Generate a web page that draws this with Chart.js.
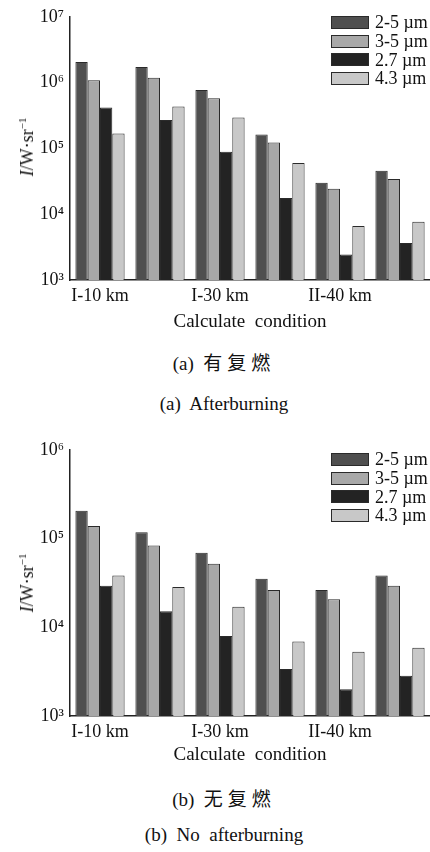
<!DOCTYPE html>
<html>
<head>
<meta charset="utf-8">
<script src="https://cdn.jsdelivr.net/npm/chart.js@4.4.1/dist/chart.umd.min.js"></script>
<style>
  html, body { margin: 0; padding: 0; background: #fff; }
  body { width: 430px; height: 852px; position: relative; overflow: hidden; font-family: "Liberation Serif", "Noto Sans CJK SC", serif; color: #111; }
  .box { position: absolute; left: 0; width: 430px; }
  .legend { position: absolute; left: 331px; }
  .legend div { height: 18.7px; display: flex; align-items: center; font-size: 18px; line-height: 18px; white-space: nowrap; }
  .legend span.sw { display: inline-block; width: 38px; height: 13px; border: 1px solid #2a2a2a; box-sizing: border-box; margin-right: 6px; }
  .cap { position: absolute; left: 0; width: 448px; text-align: center; font-size: 19px; line-height: 22px; white-space: pre; }
  .cn { letter-spacing: 5px; }
  .ytitle { position: absolute; left: 27px; font-size: 18px; white-space: nowrap; transform: translate(-50%, -50%) rotate(-90deg); }
</style>
</head>
<body>
<div class="box" style="top:0;height:334px"><canvas id="chartA"></canvas></div>
<div class="legend" id="legA" style="top:13px"></div>
<div class="ytitle" style="top:147px"><i>I</i>/W·sr<sup style="font-size:11px">−1</sup></div>
<div class="cap" style="top:353px">(a)  <span class="cn">有复燃</span></div>
<div class="cap" style="top:393px">(a)  Afterburning</div>

<div class="box" style="top:430px;height:337px"><canvas id="chartB"></canvas></div>
<div class="legend" id="legB" style="top:450px"></div>
<div class="ytitle" style="top:583px"><i>I</i>/W·sr<sup style="font-size:11px">−1</sup></div>
<div class="cap" style="top:789px">(b)  <span class="cn">无复燃</span></div>
<div class="cap" style="top:824px">(b)  No  afterburning</div>

<script>
const categories = ["I-10 km", "", "I-30 km", "", "II-40 km", ""];
const seriesLabels = ["2-5 µm", "3-5 µm", "2.7 µm", "4.3 µm"];
const seriesColors = ["#4f4f4f", "#a8a8a8", "#232323", "#c8c8c8"];

// (a) afterburning
const a25 = [2.05e6, 1.73e6, 7.7e5, 1.63e5, 3.0e4, 4.56e4];
const a35 = [1.09e6, 1.19e6, 5.77e5, 1.23e5, 2.44e4, 3.42e4];
const a27 = [4.2e5, 2.69e5, 8.9e4, 1.77e4, 2.45e3, 3.64e3];
const a43 = [1.68e5, 4.33e5, 2.96e5, 6.0e4, 6.6e3, 7.7e3];
const aTicks = [1e3, 1e4, 1e5, 1e6, 1e7];
const aTickLabels = ["10³", "10⁴", "10⁵", "10⁶", "10⁷"];

// (b) no afterburning
const b25 = [2.07e5, 1.18e5, 6.95e4, 3.52e4, 2.64e4, 3.83e4];
const b35 = [1.39e5, 8.4e4, 5.22e4, 2.64e4, 2.07e4, 2.95e4];
const b27 = [2.95e4, 1.52e4, 8.0e3, 3.4e3, 2.0e3, 2.85e3];
const b43 = [3.83e4, 2.85e4, 1.71e4, 6.9e3, 5.3e3, 5.9e3];
const bTicks = [1e3, 1e4, 1e5, 1e6];
const bTickLabels = ["10³", "10⁴", "10⁵", "10⁶"];

const serif = "'Liberation Serif', 'Times New Roman', serif";

function makeLegend(id) {
  const el = document.getElementById(id);
  seriesLabels.forEach((label, i) => {
    const row = document.createElement("div");
    row.innerHTML = '<span class="sw" style="background:' + seriesColors[i] + '"></span>' + label;
    el.appendChild(row);
  });
}

function drawChart(id, series, ticks, tickLabels, padTop, axisHeight) {
  new Chart(document.getElementById(id), {
    type: "bar",
    data: {
      labels: categories,
      datasets: series.map((values, i) => ({
        label: seriesLabels[i],
        data: values,
        backgroundColor: seriesColors[i],
        borderColor: "#2a2a2a",
        borderWidth: 1,
        barPercentage: 1,
        categoryPercentage: 0.82
      }))
    },
    options: {
      responsive: true,
      maintainAspectRatio: false,
      animation: false,
      layout: { padding: { top: padTop, right: 0, left: 0, bottom: 0 } },
      plugins: { legend: { display: false }, tooltip: { enabled: false } },
      scales: {
        x: {
          grid: { display: false, drawTicks: false },
          border: { color: "#222", width: 1.5 },
          ticks: { autoSkip: false, maxRotation: 0, padding: 5, color: "#111", font: { family: serif, size: 18 } },
          title: { display: true, text: "Calculate  condition", color: "#111", padding: { top: 0, bottom: 1 }, font: { family: serif, size: 19 } },
          afterFit: s => { s.height = axisHeight; }
        },
        y: {
          type: "logarithmic",
          min: ticks[0],
          max: ticks[ticks.length - 1],
          grid: { display: false, drawTicks: false },
          border: { color: "#222", width: 1.5 },
          afterBuildTicks: s => { s.ticks = ticks.map(v => ({ value: v })); },
          ticks: {
            padding: 6,
            color: "#111",
            font: { family: serif, size: 18 },
            callback: v => tickLabels[ticks.indexOf(v)]
          },
          afterFit: s => { s.width = 70; }
        }
      }
    }
  });
}

makeLegend("legA");
makeLegend("legB");
drawChart("chartA", [a25, a35, a27, a43], aTicks, aTickLabels, 14, 54);
drawChart("chartB", [b25, b35, b27, b43], bTicks, bTickLabels, 20, 51);
</script>
</body>
</html>
